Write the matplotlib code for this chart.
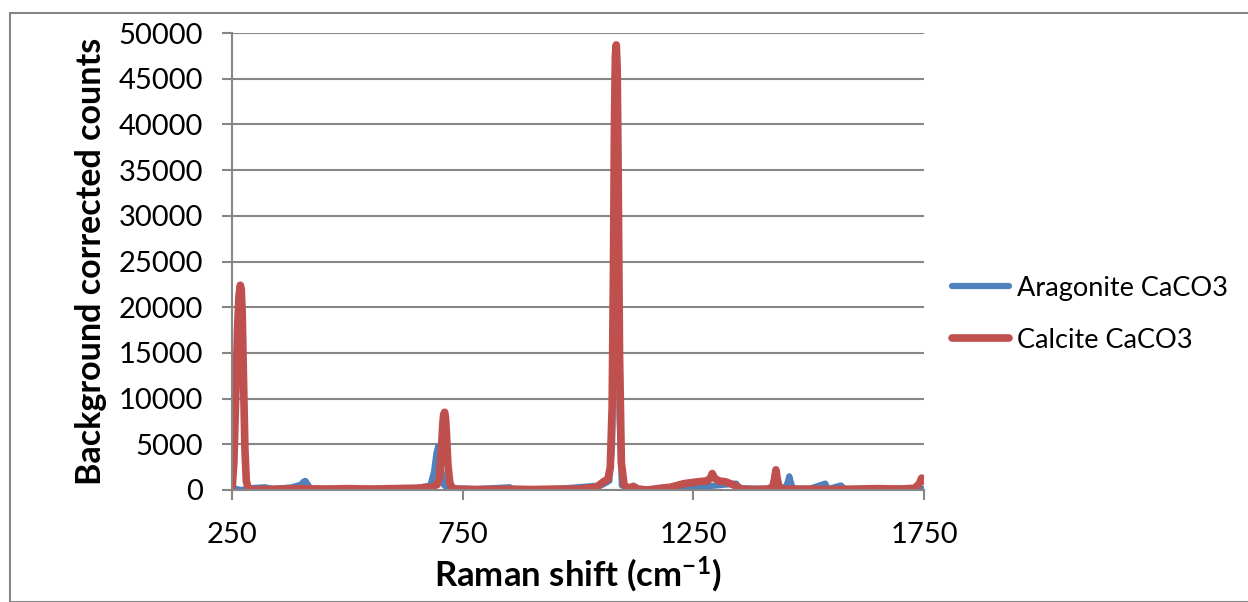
import matplotlib.pyplot as plt
from matplotlib.patches import Rectangle

plt.rcParams['font.family'] = ['Lato', 'DejaVu Sans']
plt.rcParams['mathtext.fontset'] = 'custom'
plt.rcParams['mathtext.rm'] = 'Lato:bold'
plt.rcParams['mathtext.default'] = 'rm'

# Raman spectra (wavenumber in cm-1, counts)
calcite_x = [250, 254, 258, 262, 265, 268, 270, 272, 275, 278, 281, 285, 290, 300, 350, 400, 450, 500, 550, 600,
             650, 680, 695, 700, 704, 707, 709, 711, 713, 715, 718, 722, 727, 735, 780, 850, 900, 950, 1000, 1040,
             1055, 1065, 1070, 1074, 1077, 1079, 1081, 1083, 1085, 1087, 1090, 1094, 1100, 1110, 1120, 1130, 1150,
             1180, 1200, 1230, 1260, 1280, 1287, 1291, 1296, 1305, 1320, 1340, 1355, 1380, 1410, 1422, 1426, 1429,
             1432, 1436, 1445, 1500, 1550, 1600, 1650, 1700, 1730, 1740, 1745, 1750]
calcite_y = [0, 3000, 10000, 17500, 21200, 22400, 22000, 19500, 12000, 4500, 1000, 200, 50, 50, 100, 150, 100, 150,
             100, 150, 200, 300, 600, 1500, 4500, 7300, 8300, 8500, 7800, 6000, 2800, 800, 200, 100, 50, 100, 50,
             100, 100, 300, 900, 1200, 2500, 9000, 25000, 40000, 47500, 48700, 46000, 35000, 15000, 3000, 500, 200,
             400, 100, 0, 200, 300, 700, 900, 1000, 1300, 1800, 1300, 1000, 900, 500, 100, 50, 100, 300, 1200,
             2200, 1200, 300, 100, 100, 50, 100, 150, 100, 200, 700, 1300, 1000]

aragonite_x = [250, 255, 260, 270, 290, 321, 340, 380, 400, 405, 409, 413, 420, 500, 600, 650, 680, 688, 693,
               697, 700, 704, 710, 720, 780, 852, 860, 950, 1050, 1068, 1074, 1078, 1081, 1084, 1087, 1090, 1095,
               1120, 1150, 1260, 1300, 1343, 1350, 1420, 1450, 1455, 1458, 1461, 1466, 1500, 1536, 1542, 1570,
               1578, 1650, 1720, 1750]
aragonite_y = [0, 200, 100, 0, 200, 300, 100, 300, 600, 900, 1000, 700, 150, 100, 150, 200, 500, 2000, 4000,
               4800, 4300, 2000, 500, 200, 100, 300, 50, 100, 500, 1000, 5000, 20000, 38000, 40000, 25000, 8000,
               500, 200, 50, 300, 500, 700, 200, 100, 300, 900, 1500, 900, 150, 100, 700, 100, 500,
               100, 100, 200, 100]

fig = plt.figure(figsize=(12.48, 6.02), dpi=100)
ax = fig.add_axes([232 / 1248, 1 - 490 / 602, (924 - 232) / 1248, (490 - 33) / 602])

grid_c = '#868686'
ax.plot(aragonite_x, aragonite_y, color='#4F81BD', lw=4.5, solid_joinstyle='round', solid_capstyle='round',
        label='Aragonite CaCO3')
ax.plot(calcite_x, calcite_y, color='#C0504D', lw=5.5, solid_joinstyle='round', solid_capstyle='round',
        label='Calcite CaCO3')

ax.set_xlim(250, 1750)
ax.set_ylim(0, 50000)
ax.set_xticks([250, 750, 1250, 1750])
ax.set_yticks(range(0, 50001, 5000))
ax.yaxis.grid(True, color=grid_c, lw=1.5)
ax.set_axisbelow(True)
for s in ['top', 'right']:
    ax.spines[s].set_visible(False)
for s in ['left', 'bottom']:
    ax.spines[s].set_color(grid_c)
    ax.spines[s].set_linewidth(1.5)
ax.tick_params(axis='y', length=7, width=1.5, color=grid_c, labelsize=21, pad=14)
ax.tick_params(axis='x', length=7, width=1.5, color=grid_c, labelsize=21, pad=16)

ax.set_xlabel('Raman shift (cm$^{-1}$)', fontsize=25, fontweight='bold', labelpad=5)
ax.set_ylabel('Background corrected counts', fontsize=24.5, fontweight='bold', labelpad=8)

ax.legend(loc='center left', bbox_to_anchor=(1.005, 0.385), frameon=False, fontsize=19.5,
          handlelength=2.1, labelspacing=1.0, handletextpad=0.3)

# chart border
fig.patches.append(Rectangle((10 / 1248, 0), 1.2, 1 - 13 / 602, transform=fig.transFigure,
                             fill=False, edgecolor=grid_c, lw=1.5))

fig.savefig('out.png', dpi=100)
